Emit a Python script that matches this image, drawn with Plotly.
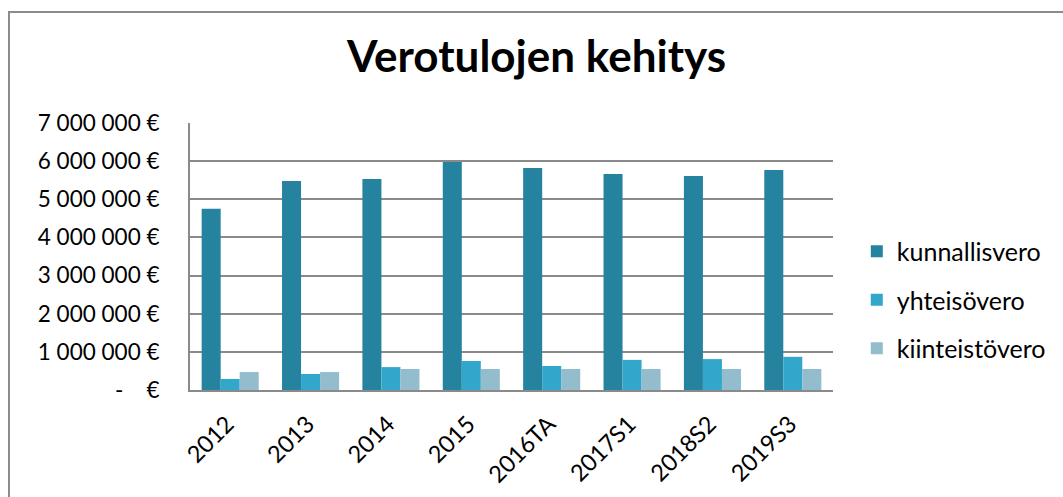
import plotly.graph_objects as go

# data
years = ["2012", "2013", "2014", "2015", "2016TA", "2017S1", "2018S2", "2019S3"]
kunnallisvero = [4750000, 5480000, 5530000, 5980000, 5820000, 5660000, 5610000, 5770000]
yhteisovero = [290000, 420000, 600000, 760000, 630000, 790000, 810000, 870000]
kiinteistovero = [470000, 470000, 550000, 550000, 550000, 550000, 550000, 550000]
y_ticks = [0, 1000000, 2000000, 3000000, 4000000, 5000000, 6000000, 7000000]

FONT = "Lato"
GRID = "#8a8a8a"


def euro(v):
    if v == 0:
        return "-\u00a0\u00a0\u00a0\u00a0€"
    return f"{v:,}".replace(",", "\u00a0") + "\u00a0€"


series = [
    ("kunnallisvero", kunnallisvero, "#2683a0"),
    ("yhteisövero", yhteisovero, "#33a7cb"),
    ("kiinteistövero", kiinteistovero, "#93bccd"),
]

fig = go.Figure()
for name, vals, color in series:
    fig.add_trace(go.Bar(x=years, y=vals, name=name, legendgroup=name,
                         marker=dict(color=color, line_width=0)))

fig.update_layout(
    width=1063, height=497,
    margin=dict(l=190, r=230, t=123, b=107),
    paper_bgcolor="white", plot_bgcolor="white",
    font=dict(family=FONT, size=22, color="black"),
    barmode="group", bargap=0.29, bargroupgap=0,
    title=dict(text="<b>Verotulojen kehitys</b>", font=dict(family=FONT, size=44),
               x=0.539, xref="paper", xanchor="center",
               y=1 - 57 / 497, yref="container", yanchor="middle"),
    legend=dict(x=1.037, xanchor="left", y=0.337, yanchor="middle",
                font=dict(size=25), tracegroupgap=13, traceorder="grouped",
                bgcolor="rgba(0,0,0,0)"),
    showlegend=True,
)

fig.update_yaxes(range=[0, 7000000], tickvals=y_ticks,
                 ticktext=[euro(v) for v in y_ticks],
                 tickfont=dict(size=22.5), automargin=False,
                 showgrid=True, gridcolor=GRID, gridwidth=2,
                 showline=True, linecolor=GRID, linewidth=2,
                 ticks="", ticklabelstandoff=24, zeroline=False)
fig.update_xaxes(tickangle=-45, showline=True, linecolor=GRID, linewidth=2,
                 tickfont=dict(size=23.5), automargin=False,
                 ticks="", ticklabelstandoff=9, ticklabelshift=-3,
                 showgrid=False)

# outer chart frame
fig.add_shape(type="rect", xref="paper", yref="paper",
              x0=(9 - 190) / 643, x1=(1075 - 190) / 643,
              y0=(390 - 12) / 267, y1=(390 - 510) / 267,
              line=dict(color="#8c8c8c", width=2), layer="below")

# the page's default body margin would shift the figure by 8px
fig.write_html("out.html", config={"displayModeBar": False},
               post_script="document.body.style.margin='0';")
